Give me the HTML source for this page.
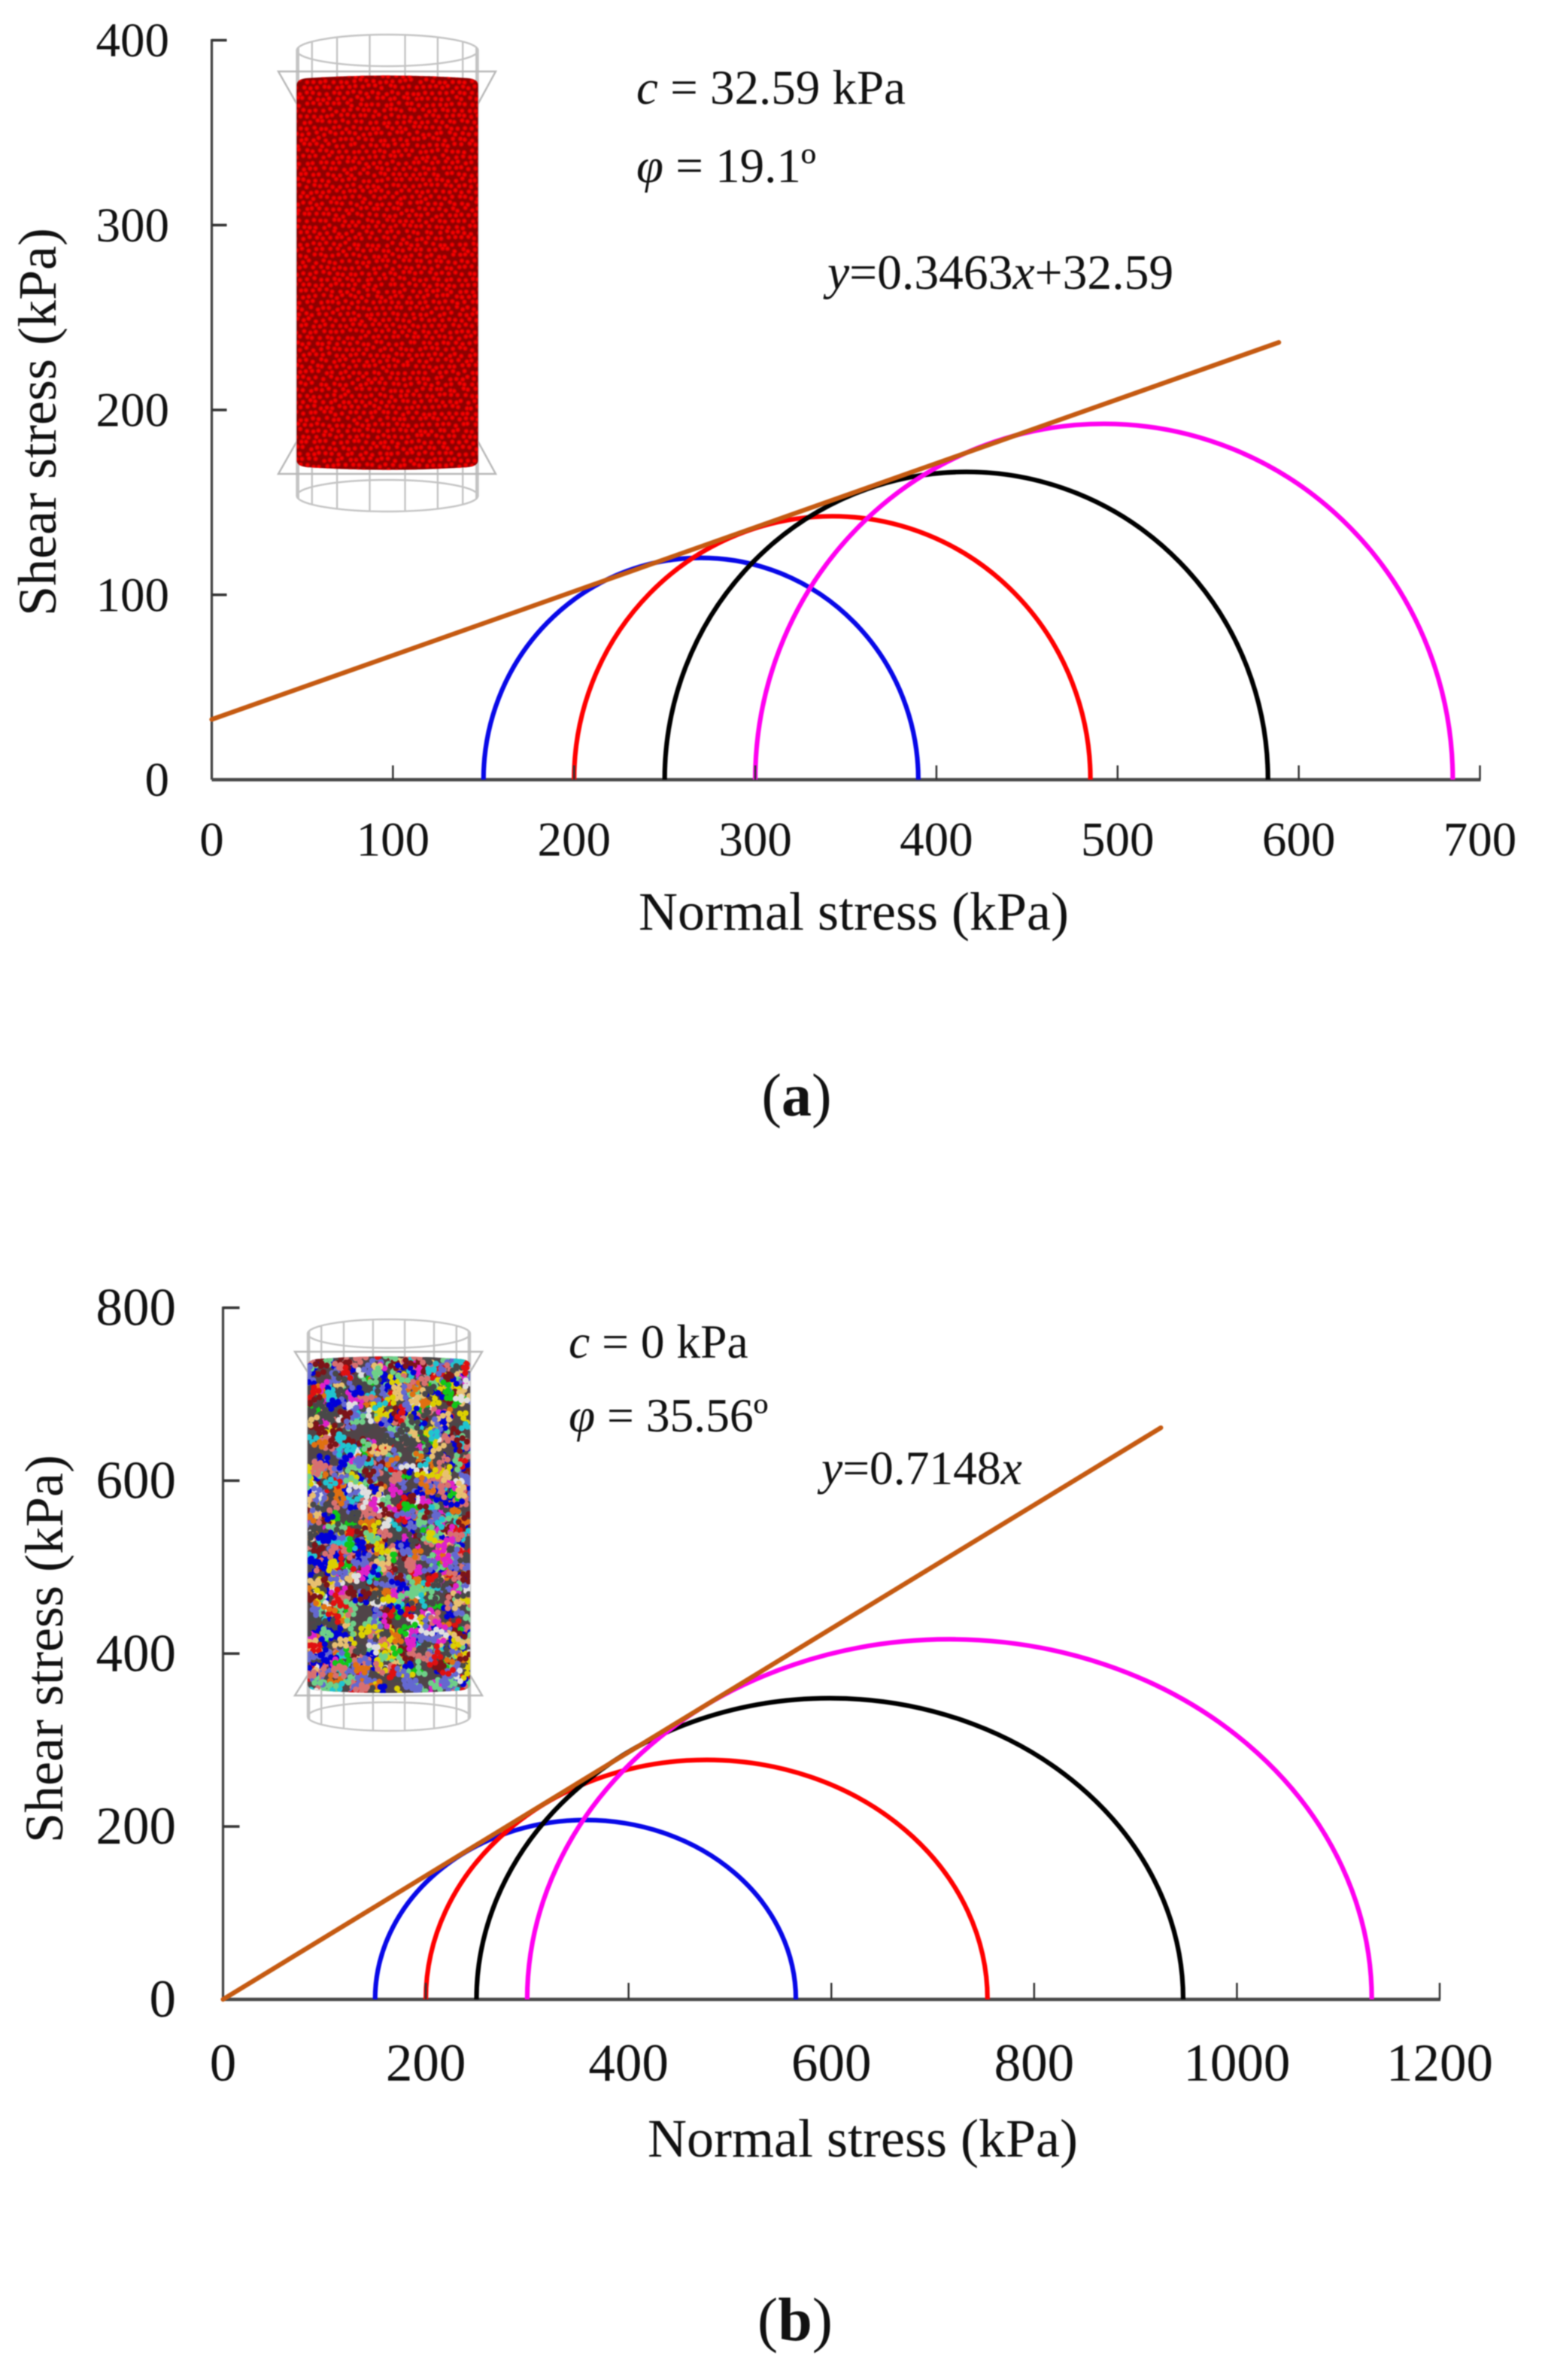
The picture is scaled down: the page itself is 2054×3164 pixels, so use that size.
<!DOCTYPE html>
<html lang="en">
<head>
<meta charset="utf-8">
<title>Mohr circles and shear strength envelopes</title>
<style>
html,body{margin:0;padding:0;background:#fff;}
svg{display:block;filter:blur(0.8px);}
text{font-family:"Liberation Serif",serif;fill:#111;}
</style>
</head>
<body>
<svg id="figure" xmlns="http://www.w3.org/2000/svg" width="2054" height="3164" viewBox="0 0 2054 3164">
  <rect width="2054" height="3164" fill="#fff"/>
  <g id="chart-a"></g>
  <g id="chart-b"></g>

  <text x="1135" y="1236" font-size="72" text-anchor="middle">Normal stress (kPa)</text>
  <text transform="translate(74 561) rotate(-90)" font-size="72" text-anchor="middle">Shear stress (kPa)</text>
  <text x="846" y="138" font-size="65"><tspan font-style="italic">c</tspan> = 32.59 kPa</text>
  <text x="846" y="242" font-size="65"><tspan font-style="italic">φ</tspan> = 19.1º</text>
  <text x="1100" y="384" font-size="65.6"><tspan font-style="italic">y</tspan>=0.3463<tspan font-style="italic">x</tspan>+32.59</text>
  <text x="1059" y="1483" font-size="80" text-anchor="middle">(<tspan font-weight="bold">a</tspan>)</text>

  <text x="1147" y="2867" font-size="72" text-anchor="middle">Normal stress (kPa)</text>
  <text transform="translate(83 2192) rotate(-90)" font-size="72" text-anchor="middle">Shear stress (kPa)</text>
  <text x="756" y="1805" font-size="63.5"><tspan font-style="italic">c</tspan> = 0 kPa</text>
  <text x="756" y="1903" font-size="63.5"><tspan font-style="italic">φ</tspan> = 35.56º</text>
  <text x="1092" y="1973" font-size="63.5"><tspan font-style="italic">y</tspan>=0.7148<tspan font-style="italic">x</tspan></text>
  <text x="1057" y="3111" font-size="82" text-anchor="middle">(<tspan font-weight="bold">b</tspan>)</text>
</svg>
<script>
// ---- Chart (a) data ----
const aXTicks = [0, 100, 200, 300, 400, 500, 600, 700];
const aYTicks = [0, 100, 200, 300, 400];
const aCircleNames = ['blue', 'red', 'black', 'magenta'];
const aSigmaMin = [150, 200, 250, 300];
const aSigmaMax = [390, 485, 583, 685];
const aEnvelopeSlope = 0.3463;
const aEnvelopeIntercept = 32.59;
const aEnvelopeEndX = 589;

// ---- Chart (b) data ----
const bXTicks = [0, 200, 400, 600, 800, 1000, 1200];
const bYTicks = [0, 200, 400, 600, 800];
const bCircleNames = ['blue', 'red', 'black', 'magenta'];
const bSigmaMin = [150, 200, 250, 300];
const bSigmaMax = [565, 754, 947, 1133];
const bEnvelopeSlope = 0.7148;
const bEnvelopeIntercept = 0;
const bEnvelopeEndX = 925;

const circleColors = {blue: '#0808e8', red: '#ff0000', black: '#000000', magenta: '#ff00f0'};
const NS = 'http://www.w3.org/2000/svg';

function make(parent, tag, attrs) {
  const el = document.createElementNS(NS, tag);
  for (const k in attrs) el.setAttribute(k, attrs[k]);
  parent.appendChild(el);
  return el;
}

function drawChart(root, prefix, cfg) {
  const xScale = (cfg.x1 - cfg.x0) / cfg.xMax;
  const yScale = (cfg.y0 - cfg.y1) / cfg.yMax;
  const xAxis = v => cfg.x0 + v * xScale;
  const yAxis = v => cfg.y0 - v * yScale;

  const yLine = make(root, 'line', {x1: cfg.x0, x2: cfg.x0, y1: yAxis(cfg.yMax) - 1.5, y2: yAxis(0), stroke: '#404040', 'stroke-width': 3.2});
  
  
  const xLine = make(root, 'line', {x1: cfg.x0, x2: xAxis(cfg.xMax) + 1, y1: yAxis(0), y2: yAxis(0), stroke: '#484848', 'stroke-width': 4.5});
  
  

  cfg.names.forEach((name, i) => {
    const lo = cfg.sMin[i];
    const hi = cfg.sMax[i];
    const r = (hi - lo) / 2;
    const d = 'M' + xAxis(lo) + ' ' + yAxis(0) +
      ' A' + (r * xScale) + ' ' + (r * yScale) + ' 0 0 1 ' + xAxis(hi) + ' ' + yAxis(0);
    const arc = make(root, 'path', {d: d, fill: 'none', stroke: circleColors[name], 'stroke-width': 6.2});
    
    
  });

  cfg.xTicks.forEach(v => {
    if (v !== 0) {
      const t = make(root, 'line', {x1: xAxis(v), x2: xAxis(v), y1: yAxis(0), y2: yAxis(0) - cfg.tickX, stroke: '#333', 'stroke-width': 2.5});
      
      
    }
    const lab = make(root, 'text', {x: xAxis(v), y: yAxis(0) + cfg.xLabelDy, 'font-size': cfg.fontSize, 'text-anchor': 'middle'});
    lab.textContent = String(v);
    
    
  });
  cfg.yTicks.forEach(v => {
    if (v !== 0) {
      const t = make(root, 'line', {x1: cfg.x0, x2: cfg.x0 + cfg.tickY, y1: yAxis(v), y2: yAxis(v), stroke: '#333', 'stroke-width': 3.5});
      
      
    }
    const lab = make(root, 'text', {x: cfg.yLabelRight, y: yAxis(v) + cfg.yLabelDy, 'font-size': cfg.fontSize, 'text-anchor': 'end'});
    lab.textContent = String(v);
    
    
  });

  const env = make(root, 'line', {
    x1: xAxis(0), y1: yAxis(cfg.intercept),
    x2: xAxis(cfg.endX), y2: yAxis(cfg.intercept + cfg.slope * cfg.endX),
    stroke: '#c55a11', 'stroke-width': 6.2, 'stroke-linecap': 'round'
  });
  
  
}

// seeded generator used only for the decorative particle texture of the specimens
function rng(seed) {
  let s = seed >>> 0;
  return function () {
    s = (s + 0x6D2B79F5) >>> 0;
    let t = s;
    t = Math.imul(t ^ (t >>> 15), t | 1);
    t ^= t + Math.imul(t ^ (t >>> 7), t | 61);
    return ((t ^ (t >>> 14)) >>> 0) / 4294967296;
  };
}

function drawWire(g, prefix, s) {
  const stroke = '#c4c4c4';
  const w = 2.4;
  const rx = s.rx, cx = s.cx;
  let d = '';
  [s.topCy, s.botCy].forEach(cy => {
    const ry = s.ry;
    d += 'M' + (cx - rx) + ' ' + cy + ' A' + rx + ' ' + ry + ' 0 1 1 ' + (cx + rx) + ' ' + cy +
         ' A' + rx + ' ' + ry + ' 0 1 1 ' + (cx - rx) + ' ' + cy + ' ';
  });
  const n = 16;
  for (let i = 0; i < n; i++) {
    const a = (i + 0.5) / n * 2 * Math.PI;
    const px = cx + rx * Math.cos(a);
    const dy = s.ry * Math.sin(a);
    d += 'M' + px.toFixed(1) + ' ' + (s.topCy + dy).toFixed(1) + ' V' + (s.botCy + dy).toFixed(1) + ' ';
  }
  d += 'M' + (cx - rx) + ' ' + s.topCy + ' V' + s.botCy + ' M' + (cx + rx) + ' ' + s.topCy + ' V' + s.botCy + ' ';
  const wire = make(g, 'path', {d: d, fill: 'none', stroke: stroke, 'stroke-width': w});
  
  

  const fl = 'M' + (cx - rx) + ' ' + s.flareTopIn + ' L' + s.flareL + ' ' + s.flareTop + ' H' + s.flareR + ' L' + (cx + rx) + ' ' + s.flareTopIn +
    ' M' + (cx - rx) + ' ' + s.flareBotIn + ' L' + s.flareL + ' ' + s.flareBot + ' H' + s.flareR + ' L' + (cx + rx) + ' ' + s.flareBotIn;
  const flare = make(g, 'path', {d: fl, fill: 'none', stroke: '#b8b8b8', 'stroke-width': 2.4});
  
  
}

function bodyPath(s) {
  const x0 = s.cx - s.rx, x1 = s.cx + s.rx;
  const c = s.corner;
  return 'M' + x0 + ' ' + (s.top + s.e) + ' Q' + x0 + ' ' + (s.top + s.e * 0.4) + ' ' + (x0 + c) + ' ' + (s.top + s.e * 0.3) +
    ' Q' + s.cx + ' ' + (s.top - s.e * 0.25) + ' ' + (x1 - c) + ' ' + (s.top + s.e * 0.3) +
    ' Q' + x1 + ' ' + (s.top + s.e * 0.4) + ' ' + x1 + ' ' + (s.top + s.e) +
    ' V' + (s.bot - s.e) + ' Q' + x1 + ' ' + (s.bot - s.e * 0.4) + ' ' + (x1 - c) + ' ' + (s.bot - s.e * 0.3) +
    ' Q' + s.cx + ' ' + (s.bot + s.e * 0.25) + ' ' + (x0 + c) + ' ' + (s.bot - s.e * 0.3) +
    ' Q' + x0 + ' ' + (s.bot - s.e * 0.4) + ' ' + x0 + ' ' + (s.bot - s.e) + ' Z';
}

function drawRedSpecimen(root, s) {
  const g = make(root, 'g', {});
  
  
  drawWire(g, 'chart-a', s);
  const clip = make(g, 'clipPath', {id: 'clip-a'});
  make(clip, 'path', {d: bodyPath(s)});
  const body = make(g, 'path', {d: bodyPath(s), fill: '#8e0000'});
  
  
  const r = rng(7);
  let d = '';
  const step = 8.8;
  let row = 0;
  for (let y = s.top; y < s.bot + step; y += step * 0.88, row++) {
    for (let x = s.cx - s.rx + (row % 2 ? step / 2 : 0); x < s.cx + s.rx + step; x += step) {
      d += 'M' + (x + (r() - 0.5) * 4).toFixed(1) + ' ' + (y + (r() - 0.5) * 4).toFixed(1) + 'h0';
    }
  }
  const under = make(g, 'path', {d: d, fill: 'none', stroke: '#c00000', 'stroke-width': 7, 'stroke-linecap': 'round', 'clip-path': 'url(#clip-a)'});
  
  
  const dots = make(g, 'path', {d: d, fill: 'none', stroke: '#f60000', 'stroke-width': 4.2, 'stroke-linecap': 'round', 'clip-path': 'url(#clip-a)'});
  
  
}

function drawColorSpecimen(root, s) {
  const g = make(root, 'g', {});
  
  
  drawWire(g, 'chart-b', s);
  const clip = make(g, 'clipPath', {id: 'clip-b'});
  make(clip, 'path', {d: bodyPath(s)});
  const body = make(g, 'path', {d: bodyPath(s), fill: '#504448'});
  
  
  const palette = ['#0000d8', '#484848', '#7c1418', '#d87070', '#10c818', '#6ed088', '#20c4d0', '#e020c8',
                   '#dcd000', '#e07010', '#e8c070', '#e0e0e0', '#6468d0', '#e01010',
                   '#484848', '#7c1418', '#d87070', '#6468d0', '#6ed088', '#0000d8'];
  const r = rng(23);
  const layer = make(g, 'g', {'clip-path': 'url(#clip-b)'});
  
  
  const step = 7.6;
  for (let pass = 0; pass < 1100; pass++) {
    // one small clump of 3-6 touching balls in a single colour
    const color = palette[Math.floor(r() * palette.length)];
    let x = s.cx - s.rx + r() * s.rx * 2;
    let y = s.top + r() * (s.bot - s.top);
    const n = 3 + Math.floor(r() * 4);
    let d = '';
    for (let i = 0; i < n; i++) {
      d += 'M' + x.toFixed(1) + ' ' + y.toFixed(1) + 'h0';
      const a = r() * 2 * Math.PI;
      x += Math.cos(a) * step;
      y += Math.sin(a) * step;
    }
    make(layer, 'path', {d: d, fill: 'none', stroke: color, 'stroke-width': 8, 'stroke-linecap': 'round'});
  }
}

const rootA = document.getElementById('chart-a');
const rootB = document.getElementById('chart-b');

drawRedSpecimen(rootA, {cx: 515, rx: 120.5, top: 100, bot: 625, e: 13, corner: 14, topCy: 67, botCy: 659, ry: 21,
  flareL: 370, flareR: 659, flareTop: 95, flareTopIn: 138, flareBot: 630, flareBotIn: 587});
drawColorSpecimen(rootB, {cx: 517, rx: 108, top: 1803, bot: 2251, e: 12, corner: 14, topCy: 1773, botCy: 2282, ry: 19,
  flareL: 392, flareR: 641, flareTop: 1797, flareTopIn: 1824, flareBot: 2254, flareBotIn: 2227});

drawChart(rootA, 'chart-a', {
  x0: 281.5, x1: 1967.5, xMax: 700, y0: 1036.5, y1: 53.5, yMax: 400,
  xTicks: aXTicks, yTicks: aYTicks, names: aCircleNames, sMin: aSigmaMin, sMax: aSigmaMax,
  slope: aEnvelopeSlope, intercept: aEnvelopeIntercept, endX: aEnvelopeEndX,
  tickX: 19, tickY: 20, fontSize: 65, xLabelDy: 101, yLabelDy: 21.5, yLabelRight: 225
});
drawChart(rootB, 'chart-b', {
  x0: 296.5, x1: 1914, xMax: 1200, y0: 2658, y1: 1738.5, yMax: 800,
  xTicks: bXTicks, yTicks: bYTicks, names: bCircleNames, sMin: bSigmaMin, sMax: bSigmaMax,
  slope: bEnvelopeSlope, intercept: bEnvelopeIntercept, endX: bEnvelopeEndX,
  tickX: 22, tickY: 22, fontSize: 71, xLabelDy: 108, yLabelDy: 23, yLabelRight: 234
});
</script>
</body>
</html>
